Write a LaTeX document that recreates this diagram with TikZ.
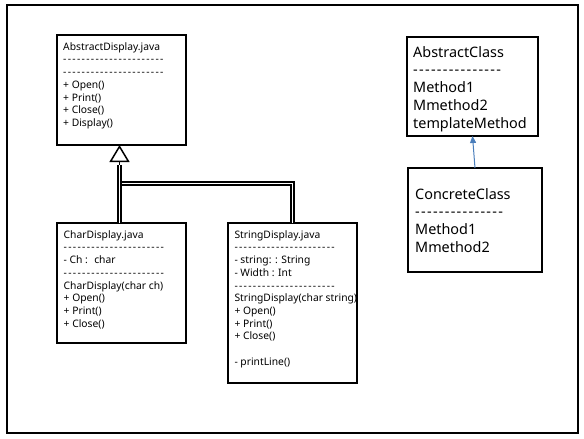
\documentclass[tikz,border=0pt]{standalone}
\usepackage{fontspec}
\setmainfont{Noto Sans}
\usepackage{xcolor}
\usetikzlibrary{arrows.meta}

\definecolor{linkblue}{RGB}{74,126,187}
\newcommand\hyphrow[1]{\foreach \n in {1,...,#1}{-\kern1.3pt}}

\begin{document}
\begin{tikzpicture}[
  x=1pt, y=-1pt,
  box/.style={draw,line width=2pt,inner sep=0pt,outer sep=0pt,anchor=north west},
  txt/.style={anchor=north west,inner sep=0pt,align=left,
              font=\fontsize{10.3}{12.7}\selectfont},
  bigtxt/.style={txt,font=\fontsize{14.4}{17.7}\selectfont},
  dbl/.style={double,double distance=1.8pt,line width=1.2pt},
  inh/.style={-{Triangle[open,length=17pt,width=20pt]},line width=1.5pt},
  ar/.style={-{Triangle[length=7pt,width=6pt]},line width=1pt,draw=linkblue}
]
\useasboundingbox (0,0) rectangle (584,439);
\node[box,minimum width=571pt,minimum height=428pt] (frame) at (7,5) {};

% class boxes
\node[box,minimum width=129pt,minimum height=110pt] (absdisp) at (57,35) {};
\node[box,minimum width=129pt,minimum height=120pt] (chardisp) at (57,223) {};
\node[box,minimum width=129pt,minimum height=160pt] (strdisp) at (228,223) {};
\node[box,minimum width=131pt,minimum height=99pt] (abscls) at (407,37) {};
\node[box,minimum width=134pt,minimum height=104pt] (conccls) at (408,168) {};

% class texts
\node[txt] (absdisptxt) at ([shift={(6,7.2)}]absdisp.north west)
  {AbstractDisplay.java\\\hyphrow{22}\\\hyphrow{22}\\+ Open()\\+ Print()\\+ Close()\\+ Display()};
\node[txt] (chardisptxt) at ([shift={(6.5,7.2)}]chardisp.north west)
  {CharDisplay.java\\\hyphrow{22}\\- Ch :~ char\\\hyphrow{22}\\CharDisplay(char ch)\\+ Open()\\+ Print()\\+ Close()};
\node[txt] (strdisptxt) at ([shift={(6.3,7.2)}]strdisp.north west)
  {StringDisplay.java\\\hyphrow{22}\\- string: : String\\- Width : Int\\\hyphrow{22}\\StringDisplay(char string)\\+ Open()\\+ Print()\\+ Close()\\[12.7pt]- printLine()};
\node[bigtxt] (absclstxt) at ([shift={(6,9.1)}]abscls.north west)
  {AbstractClass\\\hyphrow{15}\\Method1\\Mmethod2\\templateMethod};
\node[bigtxt] (concclstxt) at ([shift={(7,20.1)}]conccls.north west)
  {ConcreteClass\\\hyphrow{15}\\Method1\\Mmethod2};

% inheritance
\coordinate (tri) at (119.5,165);
\coordinate (join) at (119.5,183.5);
\draw[dbl] (strdisp.north) |- (join);
\draw[dbl] (chardisp.north -| tri) -- (tri);
\draw[inh] (tri) -- (tri |- absdisp.south);
\draw[ar] (conccls.north) -- (abscls.south);
\end{tikzpicture}
\end{document}
